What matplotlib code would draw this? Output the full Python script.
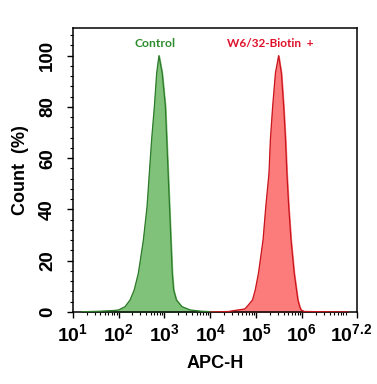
import matplotlib
matplotlib.use("Agg")
import matplotlib.pyplot as plt
import matplotlib.transforms as mtransforms
import numpy as np
from matplotlib.ticker import FixedLocator, MultipleLocator, NullFormatter

# log10(APC-H) positions and percent-of-max counts
control_log = [1.2, 1.6, 1.9, 2.0, 2.14, 2.25, 2.34, 2.43, 2.54, 2.62, 2.67, 2.72,
               2.78, 2.83, 2.88, 2.95, 3.02, 3.05, 3.08, 3.11, 3.14, 3.17, 3.20,
               3.26, 3.38, 3.56, 3.8, 4.2]
control_pct = [0.1, 0.3, 0.6, 0.8, 2.1, 4.7, 8.6, 15.1, 28.1, 41.1, 54.2, 67.2,
               80.2, 93.2, 100, 93.2, 80.2, 67.2, 54.2, 41.1, 28.1, 15.1, 8.6,
               4.7, 2.1, 0.8, 0.3, 0.0]

stained_log = [4.0, 4.4, 4.6, 4.65, 4.75, 4.80, 4.92, 4.98, 5.05, 5.15, 5.21, 5.28,
               5.31, 5.36, 5.42, 5.49, 5.55, 5.60, 5.64, 5.67, 5.71, 5.76, 5.83,
               5.88, 5.91, 5.95, 5.98, 6.05, 6.5, 7.0]
stained_pct = [0.0, 0.2, 0.8, 0.9, 1.2, 2.1, 4.7, 8.6, 15.1, 28.1, 41.1, 54.2,
               67.2, 80.2, 93.2, 100, 93.2, 80.2, 67.2, 54.2, 41.1, 28.1, 15.1,
               8.6, 4.7, 2.1, 0.8, 0.2, 0.1, 0.0]

x_tick_exps = [1, 2, 3, 4, 5, 6, 7.2]
y_ticks = [0, 20, 40, 60, 80, 100]

plt.rcParams["font.family"] = ["Liberation Sans", "DejaVu Sans"]
plt.rcParams["mathtext.fontset"] = "custom"
plt.rcParams["mathtext.bf"] = "Liberation Sans:bold"
plt.rcParams["mathtext.rm"] = "Liberation Sans:bold"

fig = plt.figure(figsize=(3.77, 3.84), dpi=100)
ax = fig.add_axes([0.193, 0.1875, 0.754, 0.739])

cx = 10 ** np.array(control_log)
sx = 10 ** np.array(stained_log)
ax.fill_between(cx, control_pct, color="#80c27a", zorder=2)
ax.plot(cx, control_pct, color="#2d7a2a", lw=0.9, zorder=3)
ax.fill_between(sx, stained_pct, color="#fc7c7c", zorder=2)
ax.plot(sx, stained_pct, color="#c8141c", lw=0.9, zorder=3)

ax.set_xscale("log")
ax.set_xlim(10, 10 ** 7.2)
ax.set_ylim(0, 110.7)

ax.xaxis.set_major_locator(FixedLocator([10 ** e for e in x_tick_exps]))
ax.set_xticklabels([r"$10^{%g}$" % e for e in x_tick_exps])
minor = [m * 10 ** d for d in range(1, 7) for m in range(2, 10) if m * 10 ** d < 10 ** 7.2]
ax.xaxis.set_minor_locator(FixedLocator(minor))
ax.xaxis.set_minor_formatter(NullFormatter())

ax.set_yticks(y_ticks)
ax.yaxis.set_minor_locator(MultipleLocator(4))
for lab in ax.get_yticklabels():
    lab.set_rotation(90)
    lab.set_va("center")

ax.tick_params(axis="both", which="major", direction="out", length=4, width=1)
ax.tick_params(axis="x", which="major", pad=4, labelsize=14)
ax.tick_params(axis="y", which="major", pad=8, labelsize=13.5)
ax.tick_params(axis="both", which="minor", direction="out", length=2, width=0.8)
for lab in ax.get_xticklabels() + ax.get_yticklabels():
    lab.set_fontweight("bold")

# the 10^7.2 label sits a little left of its tick, as in the original
last = ax.get_xticklabels()[-1]
last.set_transform(last.get_transform() +
                   mtransforms.ScaledTranslation(-6 / 100, 0, fig.dpi_scale_trans))

for sp in ax.spines.values():
    sp.set_linewidth(1.1)

ax.set_xlabel("APC-H", fontsize=13, fontweight="bold", labelpad=7)
ax.set_ylabel("Count  (%)", fontsize=13, fontweight="bold", labelpad=7)

ax.text(10 ** 2.8, 104.7, "Control", color="#2e8b2e", fontsize=8.7,
        fontweight="bold", family=["Lato", "DejaVu Sans"], ha="center", va="center")
ax.text(10 ** 5.3, 104.7, "W6/32-Biotin  +", color="#e0102a", fontsize=8.5,
        fontweight="bold", family=["Lato", "DejaVu Sans"], ha="center", va="center")

fig.savefig("out.png", dpi=100)
